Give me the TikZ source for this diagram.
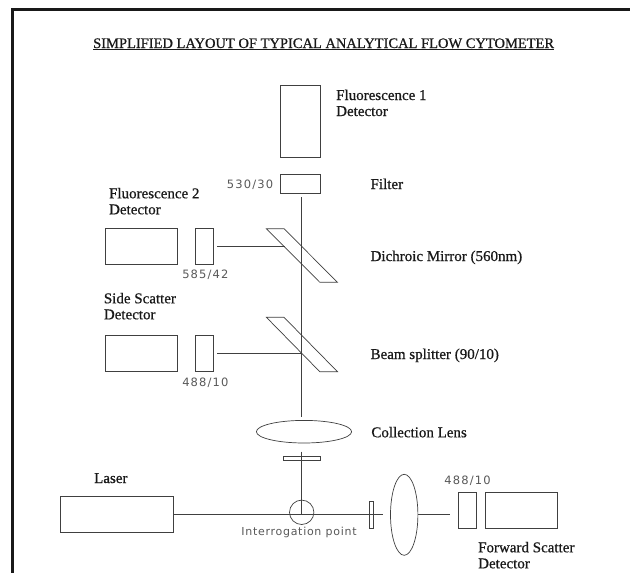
\documentclass[tikz,border=0pt]{standalone}
\usetikzlibrary{shapes.geometric}
\usepackage{fontspec}
\setmainfont{Liberation Serif}[FakeBold=0.7]
\newfontfamily\smallsans[LetterSpace=6.5]{DejaVu Sans}
\newfontfamily\digitsans[LetterSpace=10]{DejaVu Sans}
\tikzset{
  part/.style={draw=black!75,line width=0.7pt,inner sep=0pt,outer sep=0pt,minimum width=#1},
  part/.default=10pt,
  ray/.style={draw=black!75,line width=0.7pt},
  lab/.style={font=\fontsize{15}{16}\selectfont,align=left,anchor=base west,inner sep=0pt,text=black!90},
  val/.style={font=\digitsans\fontsize{11.5}{12}\selectfont,inner sep=0pt,text=black!65},
  valtext/.style={font=\smallsans\fontsize{11}{12}\selectfont,inner sep=0pt,text=black!65},
}
\newcommand{\boxat}[5]{\node[part=#4pt,minimum height=#5pt] (#1) at (#2,#3) {};}
\begin{document}
\begin{tikzpicture}[x=1pt,y=-1pt]
\useasboundingbox (0,0) rectangle (630,573);
\fill[white] (0,0) rectangle (630,573);
% frame
\coordinate (frTL) at (12.5,9);
\coordinate (frTR) at (630,9);
\coordinate (frBL) at (12.5,573);
\draw[black!90,line width=3pt,line join=miter] (frBL) -- (frTL) -- (frTR);
\node[lab,font=\fontsize{14.5}{16}\selectfont] (title) at (93,48) {\underline{SIMPLIFIED LAYOUT OF TYPICAL ANALYTICAL FLOW CYTOMETER}};
% detectors and filters
\boxat{fa}{300}{121.3}{40}{72}
\boxat{ffa}{300}{184}{40}{18.6}
\boxat{fb}{141}{246.5}{72}{35.6}
\boxat{ffb}{204}{246.5}{18}{35.6}
\boxat{ss}{141}{353.7}{72}{36}
\boxat{fss}{204}{353.7}{18}{36}
\boxat{laser}{116.8}{514.3}{113}{36}
\boxat{block}{301.8}{458.5}{36.4}{4.4}
\boxat{stop}{371.4}{514.6}{4.4}{27.3}
\boxat{ffs}{467.5}{510.2}{18.1}{36.3}
\boxat{fs}{521.2}{510.2}{72.3}{36.3}
% lenses and point
\node[part,draw,ellipse,minimum width=95.2pt,minimum height=22.6pt] (lens) at (304,431.7) {};
\node[part,draw,ellipse,minimum width=27.4pt,minimum height=81pt] (fwd) at (404.2,514.8) {};
\node[part,draw,circle,minimum size=24.4pt] (ipoint) at (301.7,512.3) {};
% mirrors
\draw[ray] (266.4,228.7) -- (284,228.7) -- (337.5,282.3) -- (319.8,282.3) -- cycle;
\draw[ray] (266.4,317.3) -- (284,317.3) -- (337.5,371.7) -- (319.8,371.7) -- cycle;
% connector ends
\coordinate (vtop) at (301.7,197);
\coordinate (vbot) at (301.7,416.7);
\coordinate (vlow) at (301.7,451.7);
\coordinate (vpt) at (301.7,514);
\coordinate (f2s) at (217,246.7);
\coordinate (f2e) at (284.5,246.7);
\coordinate (sss) at (217,353.7);
\coordinate (sse) at (301.7,353.7);
\coordinate (bend) at (382.5,514);
\coordinate (bs) at (417.8,514);
\coordinate (be) at (450,514);
\draw[ray] (vtop) -- (vbot);
\draw[ray] (vlow) -- (vpt);
\draw[ray] (f2s) -- (f2e);
\draw[ray] (sss) -- (sse);
\draw[ray] (laser.east |- bend) -- (bend);
\draw[ray] (bs) -- (be);
% labels
\node[lab] (la) at (336,100) {Fluorescence 1};
\node[lab] (lb) at (336,116) {Detector};
\node[lab] (lc) at (370.4,189) {Filter};
\node[lab] (ld) at (108.9,198.3) {Fluorescence 2};
\node[lab] (le) at (108.9,214.3) {Detector};
\node[lab] (lf) at (370.4,261) {Dichroic Mirror (560nm)};
\node[lab] (lg) at (103.7,303.3) {Side Scatter};
\node[lab] (lh) at (103.7,319.3) {Detector};
\node[lab] (li) at (370.4,359) {Beam splitter (90/10)};
\node[lab] (lj) at (371.2,437.3) {Collection Lens};
\node[lab] (lk) at (94,483) {Laser};
\node[lab] (ll) at (478,552.3) {Forward Scatter};
\node[lab] (lm) at (478,568.3) {Detector};
\node[val] (va) at (250,185) {530/30};
\node[val] (vb) at (205.4,274.3) {585/42};
\node[val] (vc) at (205.4,382.3) {488/10};
\node[val] (vd) at (467.5,480.3) {488/10};
\node[valtext] (ve) at (299,532.3) {Interrogation point};
\end{tikzpicture}
\end{document}
